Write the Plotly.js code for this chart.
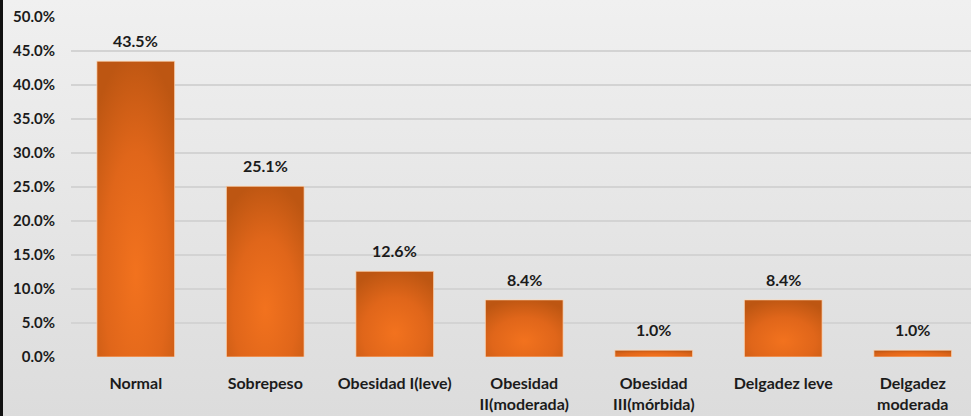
<!DOCTYPE html>
<html><head><meta charset="utf-8">
<script src="https://cdn.plot.ly/plotly-3.0.1.min.js"></script>
<style>
html,body{margin:0;padding:0;}
body{width:971px;height:416px;overflow:hidden;background:linear-gradient(#f0f0f0,#dcdcdc);}
#frame{position:absolute;left:0;top:0;width:3px;height:416px;background:#111;}
#chart{width:971px;height:416px;}
</style></head>
<body><div id="frame"></div><div id="chart"></div>
<script>
const categories = ["Normal","Sobrepeso","Obesidad I(leve)","Obesidad<br>II(moderada)","Obesidad<br>III(mórbida)","Delgadez leve","Delgadez<br>moderada"];
const values = [43.5, 25.1, 12.6, 8.4, 1.0, 8.4, 1.0];
const valueLabels = ["43.5%","25.1%","12.6%","8.4%","1.0%","8.4%","1.0%"];

const font = "Lato, 'Open Sans', sans-serif";
const trace = {
  type: 'bar', x: categories, y: values,
  marker: {color: '#e2661b', line: {color: 'rgba(255,215,180,0.7)', width: 1}},
  hoverinfo: 'none'
};
const annotations = categories.map((c,i)=>({
  x: c, y: values[i], text: '<b>'+valueLabels[i]+'</b>', showarrow: false,
  yanchor: 'bottom', yshift: 9, font: {family: font, size: 16, color: '#1b1b1b'}
}));
const layout = {
  width: 971, height: 416,
  margin: {l: 71, r: 0, t: 17, b: 59},
  paper_bgcolor: 'rgba(0,0,0,0)', plot_bgcolor: 'rgba(0,0,0,0)',
  bargap: 0.4, showlegend: false,
  font: {family: font, size: 15, color: '#1b1b1b'},
  xaxis: {type: 'category', range: [-0.5, 6.45], showgrid: false, zeroline: false,
    showline: false, ticks: 'outside', ticklen: 12, tickcolor: 'rgba(0,0,0,0)',
    tickfont: {family: font, size: 16, color: '#1b1b1b', weight: 'bold'}},
  yaxis: {range: [0, 50], dtick: 5, tickformat: '.1f', ticksuffix: '%',
    showgrid: true, gridcolor: '#d3d3d3', gridwidth: 2, zeroline: false,
    ticklabelstandoff: 15,
    tickfont: {family: font, size: 15, color: '#1b1b1b', weight: 'bold'}},
  annotations: annotations
};
Plotly.newPlot('chart', [trace], layout, {staticPlot: true}).then(gd => {
  const svg = gd.querySelector('svg.main-svg');
  const ns = 'http://www.w3.org/2000/svg';
  let defs = svg.querySelector('defs');
  const g = document.createElementNS(ns, 'radialGradient');
  g.setAttribute('id', 'barGrad');
  g.setAttribute('cx', '0.5'); g.setAttribute('cy', '0.72'); g.setAttribute('r', '0.75');
  [['0', '#f2721e'], ['0.55', '#e0661a'], ['1', '#bd5612']].forEach(([o, c]) => {
    const s = document.createElementNS(ns, 'stop');
    s.setAttribute('offset', o); s.setAttribute('stop-color', c);
    g.appendChild(s);
  });
  defs.appendChild(g);
  gd.querySelectorAll('.bars .point path').forEach(p => { p.style.fill = 'url(#barGrad)'; });
});
</script>
</body></html>
